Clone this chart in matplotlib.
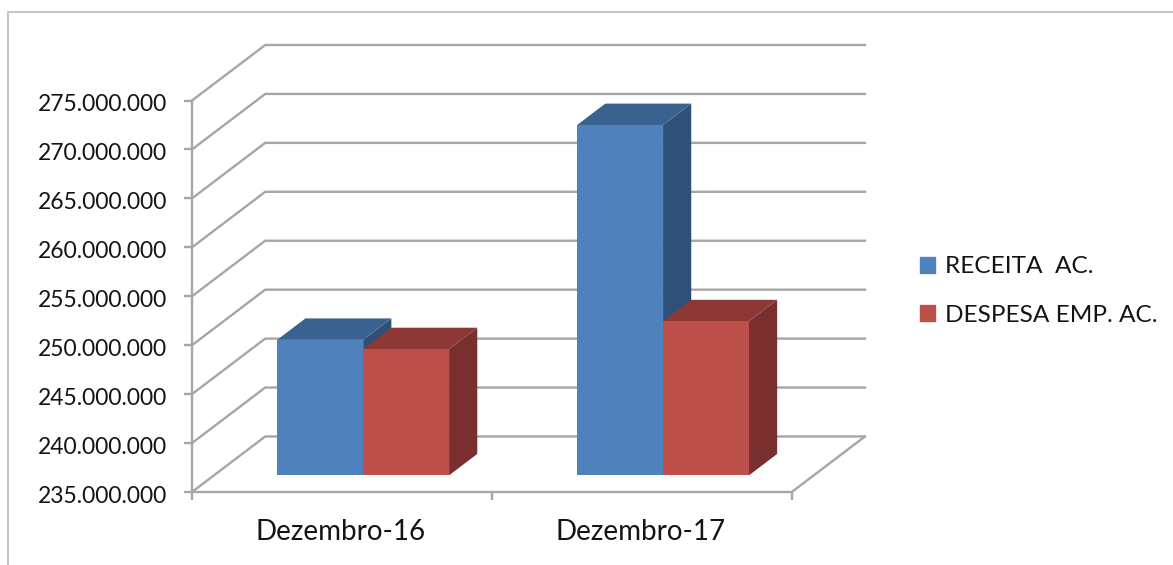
import matplotlib
matplotlib.use('Agg')
import matplotlib.pyplot as plt
from matplotlib.patches import Patch
from matplotlib.transforms import ScaledTranslation

# values
categories = ['Dezembro-16', 'Dezembro-17']
receita = [248850000, 270800000]
despesa = [247900000, 250750000]
y_ticks = [235000000, 240000000, 245000000, 250000000, 255000000,
           260000000, 265000000, 270000000, 275000000]
series_names = ['RECEITA  AC.', 'DESPESA EMP. AC.']

plt.rcParams['font.family'] = ['Lato', 'DejaVu Sans']

W, H = 1173, 565
fig = plt.figure(figsize=(W / 100, H / 100), dpi=100)

# axes box in pixels: front-left corner to back-right corner of the fake 3d box
left, right, top, bottom = 192, 865, 45, 492
ax = fig.add_axes([left / W, 1 - bottom / H, (right - left) / W, (bottom - top) / H])
ax.patch.set_alpha(0)

per_cat = 299.0
per_val = 48.9 / 5000000
depth_x = 73 / per_cat
depth_y = 55.5 / per_val
ax.set_xlim(0, 2 + depth_x)
ax.set_ylim(y_ticks[0], y_ticks[-1] + depth_y)

grid_col = '#a6a6a6'
text_col = '#141414'
for v in y_ticks:
    ax.plot([0, depth_x, 2 + depth_x], [v, v + depth_y, v + depth_y],
            color=grid_col, lw=1.7, zorder=1, clip_on=False)
# right edge of floor
ax.plot([2, 2 + depth_x], [y_ticks[0], y_ticks[0] + depth_y], color=grid_col, lw=1.7, zorder=1)

bar_w = 0.2865
front = 0.3
deep = 0.385


def bar3d(x0, val, face, side, lid, z):
    # x0 is on the front plane, everything gets pushed back by the depth offset
    base = y_ticks[0]
    fx = x0 + front * depth_x
    fb = base + front * depth_y
    h = val - base
    dx = deep * depth_x
    dy = deep * depth_y
    ax.fill([fx + bar_w, fx + bar_w + dx, fx + bar_w + dx, fx + bar_w],
            [fb, fb + dy, fb + h + dy, fb + h], color=side, lw=0, zorder=z)
    ax.fill([fx, fx + dx, fx + bar_w + dx, fx + bar_w],
            [fb + h, fb + h + dy, fb + h + dy, fb + h], color=lid, lw=0, zorder=z)
    ax.fill([fx, fx + bar_w, fx + bar_w, fx],
            [fb, fb, fb + h, fb + h], color=face, lw=0, zorder=z)


for i in range(len(categories)):
    x0 = i + 0.211
    bar3d(x0, receita[i], '#4f81bd', '#2f5179', '#3a6290', 3)
    bar3d(x0 + bar_w, despesa[i], '#bd4f4b', '#7a2f2f', '#8e3835', 4)

ax.set_xticks([0, 1, 2])
ax.set_xticklabels([])
for i, c in enumerate(categories):
    ax.annotate(c, (i + 0.5, y_ticks[0]), xytext=(-1, -29), textcoords='offset points',
                ha='center', va='center', fontsize=20, color=text_col, annotation_clip=False)
ax.set_yticks(y_ticks)
ax.set_yticklabels([f'{v:,}'.replace(',', '.') for v in y_ticks], fontsize=16.5, color=text_col)
ax.tick_params(axis='both', length=6, width=1.7, color=grid_col)
ax.tick_params(axis='y', pad=12)
# labels sit a little under their ticks
shift = ScaledTranslation(0, -1.5 / 72, fig.dpi_scale_trans)
for lab in ax.get_yticklabels():
    lab.set_transform(lab.get_transform() + shift)

for s in ['top', 'right']:
    ax.spines[s].set_visible(False)
ax.spines['left'].set_bounds(y_ticks[0], y_ticks[-1])
ax.spines['bottom'].set_bounds(0, 2)
for s in ['left', 'bottom']:
    ax.spines[s].set_color(grid_col)
    ax.spines[s].set_linewidth(1.7)

fig.legend(handles=[Patch(color='#4f81bd', label=series_names[0]),
                    Patch(color='#bd4f4b', label=series_names[1])],
           loc='upper left', bbox_to_anchor=(913 / W, 1 - 249 / H), frameon=False,
           fontsize=17.6, labelcolor=text_col, handlelength=0.62, handleheight=0.62,
           handletextpad=0.4, labelspacing=1.13, borderpad=0.3, borderaxespad=0)

# thin frame, only top and left are in the crop
fig.add_artist(plt.Line2D([8 / W, 8 / W, 1], [0, 1 - 12 / H, 1 - 12 / H],
                          color='#c4c4c4', lw=1.4, transform=fig.transFigure))

fig.savefig('out.png', dpi=100)
